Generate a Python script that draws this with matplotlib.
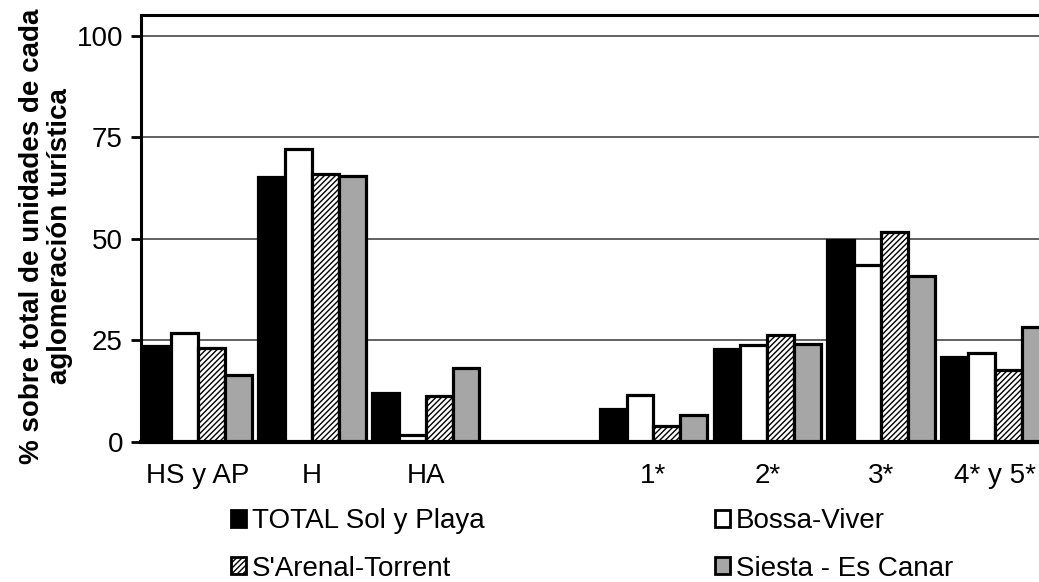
import numpy as np
import matplotlib
matplotlib.use("Agg")
import matplotlib.pyplot as plt
from matplotlib.patches import Patch

plt.rcParams['font.family'] = ['Liberation Sans', 'DejaVu Sans']
plt.rcParams['hatch.linewidth'] = 1.0

categories = ["HS y AP", "H", "HA", "", "1*", "2*", "3*", "4* y 5*"]
series_names = ["TOTAL Sol y Playa", "Bossa-Viver", "S'Arenal-Torrent", "Siesta - Es Canar"]
total_sol_playa = [23.6, 65.3, 11.9, np.nan, 8.1, 22.9, 49.7, 20.9]
bossa_viver = [26.8, 72.1, 1.6, np.nan, 11.5, 23.7, 43.5, 21.8]
sarenal_torrent = [23.0, 65.9, 11.3, np.nan, 3.9, 26.3, 51.7, 17.7]
siesta_es_canar = [16.4, 65.4, 18.1, np.nan, 6.5, 24.0, 40.9, 28.2]
yticks = [0, 25, 50, 75, 100]
ylabel = "% sobre total de unidades de cada\naglomeración turística"

series = [total_sol_playa, bossa_viver, sarenal_torrent, siesta_es_canar]
styles = [
    dict(facecolor="black", hatch=None),
    dict(facecolor="white", hatch=None),
    dict(facecolor="white", hatch="//////"),
    dict(facecolor="#a6a6a6", hatch=None),
]

W, H = 1039, 582
fig = plt.figure(figsize=(W / 100, H / 100), dpi=100)
left, right, top, bottom = 141, 1052, 15, 441.7
ax = fig.add_axes([left / W, (H - bottom) / H, (right - left) / W, (bottom - top) / H])

x = np.arange(len(categories))
bw = 0.236
n = len(series)
for i, (vals, st) in enumerate(zip(series, styles)):
    offs = (i - (n - 1) / 2) * bw
    ax.bar(x + offs, vals, width=bw, facecolor=st["facecolor"], hatch=st["hatch"],
           edgecolor="black", linewidth=2.3, zorder=3, label=series_names[i])

ax.set_xlim(-0.5, len(categories) - 0.5)
ax.set_ylim(0, 105.1)
ax.set_yticks(yticks)
ax.set_yticklabels([str(t) for t in yticks], fontsize=20)
ax.set_xticks(x)
ax.set_xticklabels(categories, fontsize=20)
ax.tick_params(axis='x', length=0, pad=15)
ax.tick_params(axis='y', length=7, width=2, direction='out', pad=6)
ax.yaxis.grid(True, color="#555555", linewidth=1.3, zorder=0)
ax.set_axisbelow(True)
for s in ["top", "left"]:
    ax.spines[s].set_linewidth(2.2)
ax.spines["bottom"].set_linewidth(3)
ax.spines["bottom"].set_zorder(4)
ax.spines["right"].set_visible(False)

fig.text(46 / W, (H - 236) / H, ylabel, rotation=90, ha="center", va="center",
         fontsize=20, fontweight="bold", multialignment="center", linespacing=1.12)

handles = [Patch(facecolor=st["facecolor"], hatch=st["hatch"], edgecolor="black", linewidth=2.0)
           for st in styles]
order = [0, 2, 1, 3]
fig.legend([handles[k] for k in order], [series_names[k] for k in order], ncol=2,
           loc="upper left", bbox_to_anchor=(231 / W, (H - 508) / H), frameon=False,
           fontsize=20, handlelength=0.55, handleheight=0.55, handletextpad=0.2,
           columnspacing=8.3, labelspacing=0.78, borderaxespad=0, borderpad=0)

fig.savefig("out.png", dpi=100)
